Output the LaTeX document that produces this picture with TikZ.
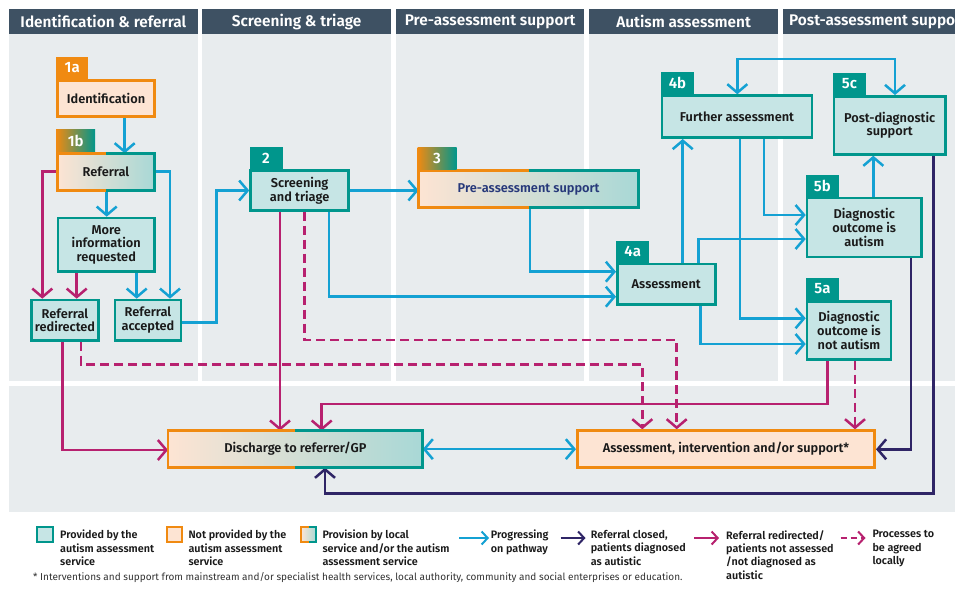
\documentclass[tikz,border=0pt]{standalone}
\usepackage{fontspec}
\setmainfont{Fira Sans}[BoldFont={Fira Sans SemiBold}]
\usetikzlibrary{arrows.meta,calc}

\definecolor{chead}{HTML}{3E5163}
\definecolor{cbody}{HTML}{E8ECEE}
\definecolor{cteal}{HTML}{00968C}
\definecolor{ctealfill}{HTML}{C6E5E5}
\definecolor{corange}{HTML}{F08A11}
\definecolor{cpeach}{HTML}{FDE4D3}
\definecolor{cmix}{HTML}{A8D8D6}
\definecolor{cblue}{HTML}{14A1D3}
\definecolor{cnavy}{HTML}{2F2566}
\definecolor{cmag}{HTML}{B7216F}
\definecolor{cpre}{HTML}{27397A}
\definecolor{ctext}{HTML}{1A1A1A}
\definecolor{cfoot}{HTML}{333333}

\newcommand\pwbox{\fontsize{12.8}{13.7}\selectfont\bfseries}
\newcommand\pwtab{\fontsize{15}{15}\selectfont\bfseries}
\newcommand\pwhead{\fontsize{15.4}{17}\selectfont\bfseries}
\newcommand\pwleg{\fontsize{10.8}{13.4}\selectfont\bfseries}
\newcommand\pwfoot{\fontsize{10}{12}\selectfont}

% border of a box provided jointly: orange on the left half, teal on the right
\newcommand\splitframe[2]{%
  \draw[line width=#2, draw=corange] (#1.north) -- (#1.north west) -- (#1.south west) -- (#1.south);
  \draw[line width=#2, draw=cteal] (#1.north) -- (#1.north east) -- (#1.south east) -- (#1.south);
}

\pgfdeclarelayer{bg}
\pgfdeclarelayer{lines}
\pgfsetlayers{bg,lines,main}

\tikzset{
  boxbase/.style={line width=2.6pt, inner sep=1pt, align=center, font=\pwbox, text=ctext},
  tealbox/.style={boxbase, draw=cteal, fill=ctealfill},
  orangebox/.style={boxbase, draw=corange, fill=cpeach},
  mixbox/.style={boxbase, outer sep=0pt, left color=cpeach, right color=cmix},
  tabbase/.style={anchor=south west, inner sep=0pt, minimum height=22pt, font=\pwtab, text=white},
  tabteal/.style={tabbase, fill=cteal, minimum width=33pt},
  taborange/.style={tabbase, fill=corange, minimum width=32pt},
  tabmix/.style={tabbase, left color=corange, right color=cteal, minimum width=39pt},
  link/.style={line width=2.5pt, arrows={-Straight Barb[length=8.5pt,width=20pt]}},
  flow/.style={link, draw=cblue},
  flowboth/.style={flow, arrows={Straight Barb[length=8.5pt,width=20pt]-Straight Barb[length=8.5pt,width=20pt]}},
  closed/.style={link, draw=cnavy},
  redirect/.style={link, draw=cmag},
  agree/.style={redirect, dash pattern=on 9pt off 5pt},
  headtext/.style={text=white, font=\pwhead, inner sep=0pt},
  legsq/.style={line width=2pt, minimum size=15.4pt, inner sep=0pt},
  legtext/.style={anchor=north west, align=left, inner sep=0pt, font=\pwleg, text=ctext},
  legarrow/.style={line width=2pt, arrows={-Straight Barb[length=6pt,width=13pt]}},
}

\begin{document}
\begin{tikzpicture}[x=1pt,y=-1pt]
\useasboundingbox (0,0) rectangle (955,590);
\clip (0,0) rectangle (955,590);

% ---------- stage columns ----------
\begin{pgfonlayer}{bg}
  \fill[white] (0,0) rectangle (955,590);
  \foreach \a/\b in {9/197.7, 202.3/391, 396/584.3, 589/778.3, 783.3/990}{
    \fill[cbody] (\a,34) rectangle (\b,381);
    \fill[chead] (\a,9.3) rectangle (\b,34);
  }
  \fill[cbody] (9,386) rectangle (990,511.7);
\end{pgfonlayer}
\node[headtext] (h1) at (103.35,21.7) {Identification \& referral};
\node[headtext] (h2) at (296.65,21.7) {Screening \& triage};
\node[headtext] (h3) at (490.15,21.7) {Pre-assessment support};
\node[headtext] (h4) at (683.65,21.7) {Autism assessment};
\node[headtext, anchor=west] (h5) at (789,21.7) {Post-assessment support};

% ---------- boxes ----------
\node[orangebox, minimum width=97.4pt, minimum height=36.4pt] (n1a) at (106,98.5) {Identification};
\node[mixbox, minimum width=97.4pt, minimum height=37.1pt] (n1b) at (106,171.85) {Referral};
\node[tealbox, minimum width=96.9pt, minimum height=53.4pt] (nmore) at (106.25,244.7) {More\\information\\requested};
\node[tealbox, minimum width=67.4pt, minimum height=40.4pt] (nredir) at (65,320.2) {Referral\\redirected};
\node[tealbox, minimum width=66pt, minimum height=40.4pt] (naccept) at (148,320.2) {Referral\\accepted};
\node[tealbox, minimum width=98.1pt, minimum height=39.8pt] (n2) at (299.65,190.5) {Screening\\and triage};
\node[mixbox, minimum width=220.1pt, minimum height=37.1pt, text=cpre] (n3) at (528.65,189.15) {Pre-assessment support};
\node[tealbox, minimum width=97.9pt, minimum height=40.7pt] (n4a) at (666.25,284.35) {Assessment};
\node[tealbox, minimum width=150pt, minimum height=42.1pt] (n4b) at (737,116.65) {Further assessment};
\node[tealbox, minimum width=111.4pt, minimum height=58.1pt] (n5c) at (889.7,125.35) {Post-diagnostic\\support};
\node[tealbox, minimum width=114.4pt, minimum height=59pt] (n5b) at (864.2,227.5) {Diagnostic\\outcome is\\autism};
\node[tealbox, minimum width=84pt, minimum height=58.1pt] (n5a) at (849,330.35) {Diagnostic\\outcome is\\not autism};
\node[mixbox, minimum width=254.7pt, minimum height=37.1pt] (ndis) at (295.35,449.15) {Discharge to referrer/GP};
\node[orangebox, minimum width=297.4pt, minimum height=37.1pt] (nais) at (726,449.15) {Assessment, intervention and/or support*};

\splitframe{n1b}{2.6pt}
\splitframe{n3}{2.6pt}
\splitframe{ndis}{2.6pt}

% ---------- step tabs ----------
\node[taborange] (t1a) at (n1a.north west) {1a};
\node[tabmix] (t1b) at ([shift={(-1.3pt,1.3pt)}]n1b.north west) {1b};
\node[tabteal] (t2) at (n2.north west) {2};
\node[tabmix] (t3) at ([shift={(-1.3pt,1.3pt)}]n3.north west) {3};
\node[tabteal] (t4a) at (n4a.north west) {4a};
\node[tabteal] (t4b) at (n4b.north west) {4b};
\node[tabteal] (t5c) at (n5c.north west) {5c};
\node[tabteal] (t5b) at (n5b.north west) {5b};
\node[tabteal] (t5a) at (n5a.north west) {5a};

% ---------- connectors ----------
\begin{pgfonlayer}{lines}
  % progressing on pathway
  \draw[flow] (124.7,0 |- n1a.south) -- (124.7,0 |- n1b.north);
  \draw[flow] (106.7,0 |- n1b.south) -- (106.7,0 |- nmore.north);
  \draw[flow] (n1b.east |- 0,171.7) -| (170,0 |- naccept.north);
  \draw[flow] (136.7,0 |- nmore.south) -- (136.7,0 |- naccept.north);
  \draw[flow] (naccept.east |- 0,322.7) -| (216.7,190.5) -- (n2.west |- 0,190.5);
  \draw[flow] (n2.east |- 0,190.5) -- (n3.west |- 0,190.5);
  \draw[flow] (329,0 |- n2.south) |- (n4a.west |- 0,296.7);
  \draw[flow] (530,0 |- n3.south) |- (n4a.west |- 0,271.7);
  \draw[flow] (682.7,0 |- n4a.north) -- (682.7,0 |- n4b.south);
  \draw[flow] (698.3,0 |- n4a.north) |- (n5b.west |- 0,239);
  \draw[flow] (700.7,0 |- n4a.south) |- (n5a.west |- 0,344);
  \draw[flow] (764,0 |- n4b.south) |- (n5b.west |- 0,215);
  \draw[flow] (740,0 |- n4b.south) |- (n5a.west |- 0,318.3);
  \draw[flow] (873.3,0 |- n5b.north) -- (873.3,0 |- n5c.south);
  \draw[flowboth] (737.3,0 |- n4b.north) -- (737.3,59) -- (895,59) -- (895,0 |- n5c.north);
  \draw[flowboth] (ndis.east) -- (nais.west);
  % referral closed
  \draw[closed] (911,0 |- n5b.south) |- (nais.east |- 0,449.3);
  \draw[closed] (933.3,0 |- n5c.south) -- (933.3,493.3) -| (325,0 |- ndis.south);
  % referral redirected / not assessed / not diagnosed
  \draw[redirect] (n1b.west |- 0,171.7) -| (42.3,0 |- nredir.north);
  \draw[redirect] (76.7,0 |- nmore.south) -- (76.7,0 |- nredir.north);
  \draw[redirect] (62.7,0 |- nredir.south) |- (ndis.west |- 0,450);
  \draw[redirect] (280,0 |- n2.south) -- (280,0 |- ndis.north);
  \draw[redirect] (827.7,0 |- n5a.south) -- (827.7,404) -| (321.7,0 |- ndis.north);
  % processes to be agreed locally
  \draw[agree] (81,0 |- nredir.south) -- (81,364.5) -| (642.3,0 |- nais.north);
  \draw[agree] (304.3,0 |- n2.south) -- (304.3,340) -| (676.7,0 |- nais.north);
  \draw[agree] (855,0 |- n5a.south) -- (855,0 |- nais.north);
\end{pgfonlayer}

% ---------- key ----------
\node[legsq, draw=cteal, fill=ctealfill] (kA) at (45,534.7) {};
\node[legsq, draw=corange, fill=cpeach] (kB) at (174.2,534.7) {};
\node[legsq, outer sep=0pt, left color=cpeach, right color=cmix] (kC) at (308.7,534.7) {};
\splitframe{kC}{2pt}
\node[legtext] (tA) at (60,530) {Provided by the\\autism assessment\\service};
\node[legtext] (tB) at (188.3,530) {Not provided by the\\autism assessment\\service};
\node[legtext] (tC) at (322.3,530) {Provision by local\\service and/or the autism\\assessment service};

\coordinate (aB1) at (459,538);   \coordinate (aB2) at (489,538);
\coordinate (aN1) at (560.7,538); \coordinate (aN2) at (585.5,538);
\coordinate (aM1) at (694,538);   \coordinate (aM2) at (719,538);
\coordinate (aD1) at (840.7,538); \coordinate (aD2) at (865.5,538);
\draw[legarrow, draw=cblue] (aB1) -- (aB2);
\draw[legarrow, draw=cnavy] (aN1) -- (aN2);
\draw[legarrow, draw=cmag] (aM1) -- (aM2);
\draw[legarrow, draw=cmag, dash pattern=on 6pt off 4pt] (aD1) -- (aD2);
\node[legtext] (tD) at (490.7,530) {Progressing\\on pathway};
\node[legtext] (tE) at (590.7,530) {Referral closed,\\patients diagnosed\\as autistic};
\node[legtext] (tF) at (726,530) {Referral redirected/\\patients not assessed\\/not diagnosed as\\autistic};
\node[legtext] (tG) at (872.3,530) {Processes to\\be agreed\\locally};

\node[anchor=base west, inner sep=0pt, font=\pwfoot, text=cfoot] (fn) at (33,580.5)
  {* Interventions and support from mainstream and/or specialist health services, local authority, community and social enterprises or education.};
\end{tikzpicture}
\end{document}
